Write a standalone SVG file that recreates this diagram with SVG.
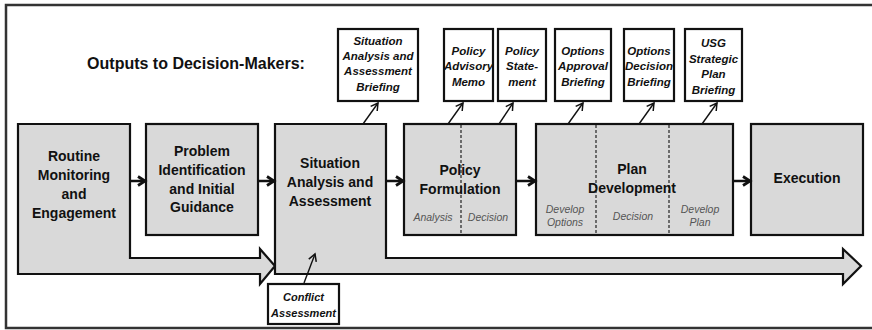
<svg xmlns="http://www.w3.org/2000/svg" width="872" height="330" viewBox="0 0 872 330">
<style>
.frame{fill:#fff;stroke:#333;stroke-width:2.5}
.box{fill:#d9d9d9;stroke:#111;stroke-width:2.2}
.out{fill:#fff;stroke:#111;stroke-width:2.2}
.dash{stroke:#222;stroke-width:1.2;stroke-dasharray:3,2;fill:none}
.t{font-family:"Liberation Sans",Arial,sans-serif;font-weight:bold;font-size:14px;fill:#111;text-anchor:middle}
.title{font-family:"Liberation Sans",Arial,sans-serif;font-weight:bold;font-size:16px;fill:#111;text-anchor:middle}
.o{font-family:"Liberation Sans",Arial,sans-serif;font-weight:bold;font-style:italic;font-size:11.5px;fill:#111;text-anchor:middle}
.c{font-size:11px}
.s{font-family:"Liberation Sans",Arial,sans-serif;font-style:italic;font-size:10.5px;fill:#555;text-anchor:middle}
.flow{stroke:#111;stroke-width:2.5;fill:none}
.up{stroke:#111;stroke-width:1.4;fill:none}
</style>
<defs>
<marker id="chev" markerWidth="12" markerHeight="12" refX="9" refY="6" orient="auto" markerUnits="userSpaceOnUse">
<polyline points="2,1.5 9,6 2,10.5" fill="none" stroke="#111" stroke-width="2.8"/>
</marker>
<marker id="open" markerWidth="10" markerHeight="10" refX="8" refY="5" orient="auto" markerUnits="userSpaceOnUse">
<polyline points="1,1 8,5 1,9" fill="none" stroke="#111" stroke-width="1.5"/>
</marker>
</defs>
<rect class="frame" x="6" y="5" width="872" height="323"/>
<text class="title" x="196" y="69">Outputs to Decision-Makers:</text>

<g id="routine">
<path class="box" d="M18,124 H130 V258 H260 V249 L275,266 L260,284 V274 H18 Z"/>
<text class="t" x="74" y="161">Routine</text>
<text class="t" x="74" y="180">Monitoring</text>
<text class="t" x="74" y="199">and</text>
<text class="t" x="74" y="218">Engagement</text>
</g>
<g id="problem">
<rect class="box" x="146" y="124" width="112" height="111"/>
<text class="t" x="202" y="156">Problem</text>
<text class="t" x="202" y="175">Identification</text>
<text class="t" x="202" y="194">and Initial</text>
<text class="t" x="202" y="212">Guidance</text>
</g>
<g id="situation">
<path class="box" d="M275,124 H386 V258 H843 V249 L861,266 L843,284 V274 H275 Z"/>
<text class="t" x="330" y="168">Situation</text>
<text class="t" x="330" y="187">Analysis and</text>
<text class="t" x="330" y="206">Assessment</text>
</g>
<g id="policy">
<rect class="box" x="404" y="124" width="112" height="111"/>
<line class="dash" x1="461" y1="125" x2="461" y2="234"/>
<text class="t" x="460" y="175">Policy</text>
<text class="t" x="460" y="194">Formulation</text>
<text class="s" x="433" y="221">Analysis</text>
<text class="s" x="488" y="221">Decision</text>
</g>
<g id="plan">
<rect class="box" x="536" y="124" width="197" height="111"/>
<line class="dash" x1="596" y1="125" x2="596" y2="234"/>
<line class="dash" x1="669" y1="125" x2="669" y2="234"/>
<text class="t" x="632" y="174">Plan</text>
<text class="t" x="632" y="193">Development</text>
<text class="s" x="565" y="213">Develop</text>
<text class="s" x="565" y="226">Options</text>
<text class="s" x="633" y="220">Decision</text>
<text class="s" x="700" y="213">Develop</text>
<text class="s" x="700" y="226">Plan</text>
</g>
<g id="execution">
<rect class="box" x="751" y="124" width="112" height="111"/>
<text class="t" x="807" y="183">Execution</text>
</g>

<g id="out-saab">
<rect class="out" x="338" y="29" width="80" height="72"/>
<text class="o" x="378" y="45">Situation</text>
<text class="o" x="378" y="60">Analysis and</text>
<text class="o" x="378" y="75">Assessment</text>
<text class="o" x="378" y="91">Briefing</text>
</g>
<g id="out-pam">
<rect class="out" x="444" y="29" width="49" height="72"/>
<text class="o" x="468.5" y="55">Policy</text>
<text class="o" x="468.5" y="70">Advisory</text>
<text class="o" x="468.5" y="86">Memo</text>
</g>
<g id="out-ps">
<rect class="out" x="498" y="29" width="48" height="72"/>
<text class="o" x="522" y="55">Policy</text>
<text class="o" x="522" y="70">State-</text>
<text class="o" x="522" y="86">ment</text>
</g>
<g id="out-oab">
<rect class="out" x="555" y="29" width="56" height="72"/>
<text class="o" x="583" y="55">Options</text>
<text class="o" x="583" y="70">Approval</text>
<text class="o" x="583" y="86">Briefing</text>
</g>
<g id="out-odb">
<rect class="out" x="624" y="29" width="50" height="72"/>
<text class="o" x="649" y="55">Options</text>
<text class="o" x="649" y="70">Decision</text>
<text class="o" x="649" y="86">Briefing</text>
</g>
<g id="out-usg">
<rect class="out" x="685" y="29" width="57" height="72"/>
<text class="o" x="713.5" y="47">USG</text>
<text class="o" x="713.5" y="63">Strategic</text>
<text class="o" x="713.5" y="78">Plan</text>
<text class="o" x="713.5" y="94">Briefing</text>
</g>
<g id="conflict">
<rect class="out" x="268" y="284" width="71" height="40"/>
<text class="o c" x="303.5" y="301">Conflict</text>
<text class="o c" x="303.5" y="317">Assessment</text>
</g>

<g id="connectors">
<line class="flow" x1="131" y1="181" x2="145" y2="181" marker-end="url(#chev)"/>
<line class="flow" x1="259" y1="181" x2="274" y2="181" marker-end="url(#chev)"/>
<line class="flow" x1="387" y1="181" x2="403" y2="181" marker-end="url(#chev)"/>
<line class="flow" x1="517" y1="181" x2="535" y2="181" marker-end="url(#chev)"/>
<line class="flow" x1="734" y1="181" x2="750" y2="181" marker-end="url(#chev)"/>
<line class="up" x1="363" y1="124" x2="378" y2="103" marker-end="url(#open)"/>
<line class="up" x1="448" y1="124" x2="463" y2="103" marker-end="url(#open)"/>
<line class="up" x1="499" y1="124" x2="513" y2="103" marker-end="url(#open)"/>
<line class="up" x1="568" y1="124" x2="583" y2="103" marker-end="url(#open)"/>
<line class="up" x1="639" y1="124" x2="654" y2="103" marker-end="url(#open)"/>
<line class="up" x1="702" y1="124" x2="717" y2="103" marker-end="url(#open)"/>
<line class="up" x1="304" y1="283" x2="315" y2="254" marker-end="url(#open)"/>
</g>
</svg>
